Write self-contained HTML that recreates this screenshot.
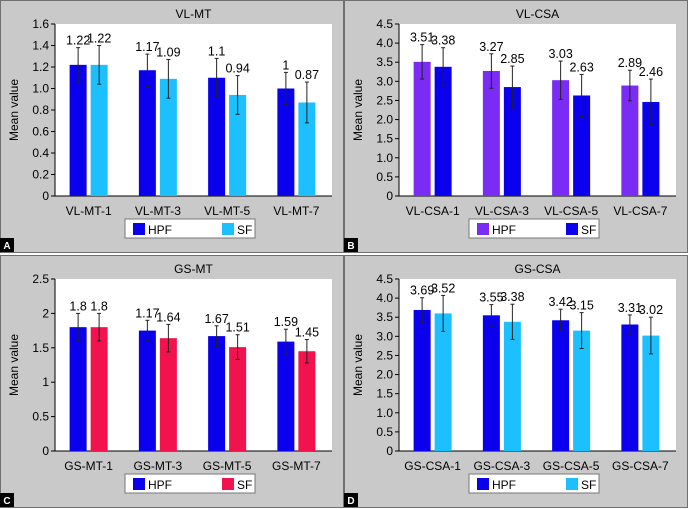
<!DOCTYPE html>
<html><head><meta charset="utf-8"><style>
body{margin:0;background:#fff;}
svg{display:block;font-family:"Liberation Sans",Arial,sans-serif;}
</style></head><body>
<svg id="chart" width="689" height="509" viewBox="0 0 689 509"></svg>
<script>
const titlesArr = ["VL-MT","VL-CSA","GS-MT","GS-CSA"];
const letters = ["A","B","C","D"];
const catsA = ["VL-MT-1","VL-MT-3","VL-MT-5","VL-MT-7"];
const catsB = ["VL-CSA-1","VL-CSA-3","VL-CSA-5","VL-CSA-7"];
const catsC = ["GS-MT-1","GS-MT-3","GS-MT-5","GS-MT-7"];
const catsD = ["GS-CSA-1","GS-CSA-3","GS-CSA-5","GS-CSA-7"];
const hpfA = [1.22,1.17,1.1,1.0];   const sfA = [1.22,1.09,0.94,0.87];
const hpfErrA = [0.16,0.15,0.18,0.15]; const sfErrA = [0.18,0.18,0.18,0.19];
const hpfLblA = ["1.22","1.17","1.1","1"]; const sfLblA = ["1.22","1.09","0.94","0.87"];
const hpfB = [3.51,3.27,3.03,2.89]; const sfB = [3.38,2.85,2.63,2.46];
const hpfErrB = [0.45,0.45,0.5,0.4]; const sfErrB = [0.5,0.55,0.55,0.6];
const hpfLblB = ["3.51","3.27","3.03","2.89"]; const sfLblB = ["3.38","2.85","2.63","2.46"];
const hpfC = [1.8,1.75,1.67,1.59]; const sfC = [1.8,1.64,1.51,1.45];
const hpfErrC = [0.2,0.15,0.15,0.18]; const sfErrC = [0.2,0.2,0.18,0.17];
const hpfLblC = ["1.8","1.17","1.67","1.59"]; const sfLblC = ["1.8","1.64","1.51","1.45"];
const hpfD = [3.69,3.55,3.42,3.31]; const sfD = [3.6,3.38,3.15,3.02];
const hpfErrD = [0.32,0.28,0.29,0.25]; const sfErrD = [0.47,0.46,0.47,0.48];
const hpfLblD = ["3.69","3.55","3.42","3.31"]; const sfLblD = ["3.52","3.38","3.15","3.02"];
const ticksA = ["0","0.2","0.4","0.6","0.8","1.0","1.2","1.4","1.6"];
const ticksB = ["0","0.5","1.0","1.5","2.0","2.5","3.0","3.5","4.0","4.5"];
const ticksC = ["0","0.5","1","1.5","2","2.5"];
const ticksD = ["0","0.5","1.0","1.5","2.0","2.5","3.0","3.5","4.0","4.5"];
const maxes = [1.6,4.5,2.5,4.5];

const panels=[
 {ox:0,oy:0,cats:catsA,h:hpfA,s:sfA,he:hpfErrA,se:sfErrA,hl:hpfLblA,sl:sfLblA,t:ticksA,hc:"#0a00ee",sc:"#1cc0ff"},
 {ox:344,oy:0,cats:catsB,h:hpfB,s:sfB,he:hpfErrB,se:sfErrB,hl:hpfLblB,sl:sfLblB,t:ticksB,hc:"#7a2cf5",sc:"#0a00ee"},
 {ox:0,oy:255,cats:catsC,h:hpfC,s:sfC,he:hpfErrC,se:sfErrC,hl:hpfLblC,sl:sfLblC,t:ticksC,hc:"#0a00ee",sc:"#f2124e"},
 {ox:344,oy:255,cats:catsD,h:hpfD,s:sfD,he:hpfErrD,se:sfErrD,hl:hpfLblD,sl:sfLblD,t:ticksD,hc:"#0a00ee",sc:"#1cc0ff"}
];
const svg=document.getElementById('chart');
const NS="http://www.w3.org/2000/svg";
function mk(tag,attrs,parent,text){const e=document.createElementNS(NS,tag);for(const k in attrs)e.setAttribute(k,attrs[k]);if(text!==undefined)e.textContent=text;parent.appendChild(e);return e;}
panels.forEach((p,pi)=>{
 const g=mk('g',{transform:`translate(${p.ox},${p.oy})`},svg);
 
 
 mk('rect',{x:0.5,y:0.5,width:343,height:252,fill:"#c9c9c9",stroke:"#707070"},g);
 const L=55,R=332,T=24,B=196;
 const max=maxes[pi];
 const y=v=>B-(v/max)*(B-T);
 mk('rect',{x:L,y:T,width:R-L,height:B-T,fill:"#fff"},g);
 const tt=mk('text',{x:(L+R)/2,y:18,'text-anchor':'middle','font-size':12},g,titlesArr[pi]);
 
 
 mk('line',{x1:L,y1:T,x2:L,y2:B,stroke:"#000"},g);
 mk('line',{x1:L,y1:B,x2:R,y2:B,stroke:"#000"},g);
 const step=max/(p.t.length-1);
 p.t.forEach((lab,i)=>{const yy=y(i*step);
  mk('line',{x1:L-4,y1:yy,x2:L,y2:yy,stroke:"#000"},g);
  const tx=mk('text',{x:L-6,y:yy+4,'text-anchor':'end','font-size':12},g,lab);
  
  
 });
 const yt=mk('text',{transform:`translate(${L-37},${(T+B)/2}) rotate(-90)`,'text-anchor':'middle','font-size':12},g,"Mean value");
 
 
 const gw=(R-L)/4;
 p.cats.forEach((c,i)=>{
  const cx=L+gw*(i+0.5)-1;
  [[p.h[i],p.he[i],p.hl[i],p.hc,cx-19,'hpf'],[p.s[i],p.se[i],p.sl[i],p.sc,cx+2,'sf']].forEach(([v,e,lb,col,x0,nm])=>{
   const r=mk('rect',{x:x0,y:y(v),width:17,height:B-y(v),fill:col},g);
   
   
   const bx=x0+8.5;
   mk('line',{x1:bx,y1:y(v+e),x2:bx,y2:y(v-e),stroke:"#222"},g);
   mk('line',{x1:bx-2,y1:y(v+e),x2:bx+2,y2:y(v+e),stroke:"#222"},g);
   mk('line',{x1:bx-2,y1:y(v-e),x2:bx+2,y2:y(v-e),stroke:"#222"},g);
   const vl=mk('text',{x:bx,y:y(v+e)-3,'text-anchor':'middle','font-size':12.5},g,lb);
   
   
  });
  const xl=mk('text',{x:cx,y:215,'text-anchor':'middle','font-size':12},g,c);
  
  
 });
 const lg=mk('g',{},g);
 
 
 mk('rect',{x:125,y:219,width:130,height:19,fill:"#fff",stroke:"#777"},lg);
 mk('rect',{x:133,y:223,width:12,height:12,fill:p.hc},lg);
 mk('text',{x:148,y:234,'font-size':12},lg,"HPF");
 mk('rect',{x:222,y:223,width:12,height:12,fill:p.sc},lg);
 mk('text',{x:237,y:234,'font-size':12},lg,"SF");
 mk('rect',{x:0,y:238,width:14,height:14,fill:"#000"},g);
 const lt=mk('text',{x:7,y:249,'text-anchor':'middle','font-size':10,'font-weight':'bold',fill:"#fff"},g,letters[pi]);
 
 
});
</script>
</body></html>
